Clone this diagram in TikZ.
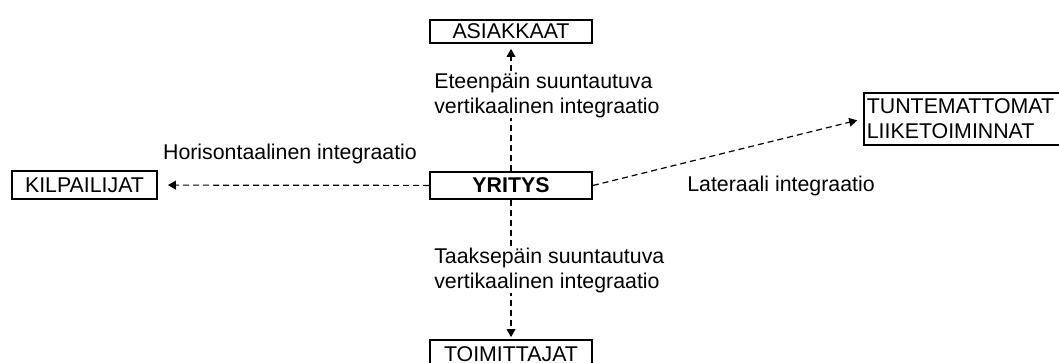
\documentclass[tikz,border=0pt]{standalone}
\usepackage{fontspec}
\setmainfont{Liberation Sans}
\usepackage{tikz}
\usetikzlibrary{arrows.meta}
\newcommand{\labtxt}{\fontsize{16pt}{18.5pt}\selectfont}
\tikzset{
  unitbox/.style={draw, line width=1.3pt, inner sep=0pt, align=center,
        font=\labtxt, minimum width=121.5pt, minimum height=21pt},
  flow/.style={-{Triangle[length=6pt,width=6.5pt]}, dash pattern=on 4.5pt off 3pt,
        line width=0.9pt},
  elab/.style={font=\labtxt, fill=white, inner sep=0pt, align=left},
}
\begin{document}
\begin{tikzpicture}[x=0.75pt,y=-0.75pt]
  \clip (0,0) rectangle (1059,363);
  \useasboundingbox (0,0) rectangle (1059,363);
  % --- units ---
  \node[unitbox, minimum height=17.25pt] (asiakkaat) at (511,31.5) {ASIAKKAAT};
  \node[unitbox, minimum height=20.25pt, font=\labtxt\bfseries] (yritys) at (511,185.5) {YRITYS};
  \node[unitbox, minimum width=108.75pt] (kilpailijat) at (84.5,185) {KILPAILIJAT};
  \node[unitbox] (toimittajat) at (511,354) {TOIMITTAJAT};
  \node[unitbox, anchor=north west, align=left, text width=170pt, inner xsep=2.25pt,
       minimum height=39pt] (tuntemattomat) at (863,92) {TUNTEMATTOMAT\\LIIKETOIMINNAT};
  % --- integration directions ---
  \draw[flow, shorten >=3.75pt] (yritys) -- (asiakkaat);
  \draw[flow, shorten >=7.5pt] (yritys) -- (kilpailijat);
  \draw[flow, shorten >=1.5pt] (yritys) -- (toimittajat);
  \draw[flow, shorten >=4.5pt] (yritys.east) -- (tuntemattomat.west);
  % labels
  \node[elab, anchor=north west] (eteen) at (434,73) {Eteenpäin suuntautuva\\vertikaalinen integraatio};
  \node[elab, anchor=north west] (taakse) at (434,248) {Taaksepäin suuntautuva\\vertikaalinen integraatio};
  \node[elab, anchor=base] (horis) at (290,160) {Horisontaalinen integraatio};
  \node[elab, anchor=base] (later) at (781,192) {Lateraali integraatio};
\end{tikzpicture}
\end{document}
